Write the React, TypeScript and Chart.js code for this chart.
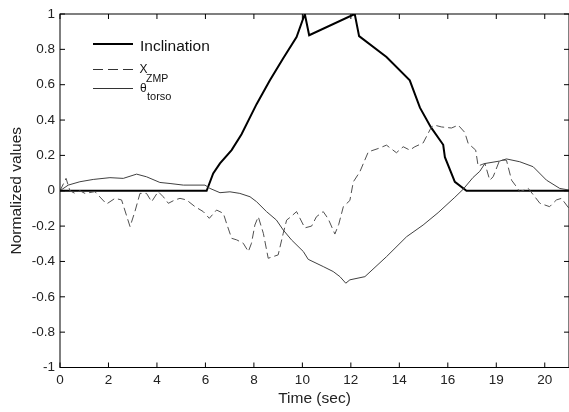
import React, { useEffect, useRef } from "react";
import { Chart, registerables } from "chart.js";

Chart.register(...registerables);

// ---- data ----
const inclinationT = [0, 6.05, 6.32, 6.6, 7.08, 7.49, 8.11, 8.66, 9.21, 9.76, 10.1, 10.28, 12.16, 12.34, 13.47, 14.43, 14.85, 15.3, 15.81, 15.88, 16.29, 16.77, 21];
const inclinationY = [0, 0, 0.098, 0.155, 0.23, 0.32, 0.49, 0.625, 0.75, 0.87, 1.0, 0.88, 1.0, 0.875, 0.757, 0.625, 0.47, 0.36, 0.26, 0.19, 0.05, 0, 0];

const zmpT = [0, 0.25, 0.41, 0.62, 0.82, 1.03, 1.44, 1.92, 2.27, 2.54, 2.89, 3.09, 3.3, 3.57, 3.78, 4.05, 4.26, 4.47, 4.74, 4.95, 5.22, 5.57, 5.91, 6.16, 6.46, 6.74, 6.87, 7.08, 7.29, 7.56, 7.77, 7.9, 8.04, 8.18, 8.39, 8.59, 9.0, 9.21, 9.35, 9.5, 9.76, 10.1, 10.38, 10.58, 10.86, 11.07, 11.34, 11.5, 11.69, 11.96, 12.1, 12.37, 12.72, 13.13, 13.47, 13.88, 14.16, 14.43, 14.64, 14.98, 15.33, 15.46, 15.74, 16.15, 16.43, 16.7, 16.84, 17.15, 17.25, 17.53, 17.73, 17.87, 18.14, 18.42, 18.63, 18.83, 18.97, 19.32, 19.59, 19.8, 20.2, 20.48, 20.69, 21.0];
const zmpY = [0, 0.07, 0.0, -0.015, 0.0, -0.015, -0.005, -0.075, -0.043, -0.052, -0.203, -0.118, -0.015, -0.015, -0.062, -0.005, -0.034, -0.071, -0.052, -0.043, -0.052, -0.09, -0.118, -0.156, -0.109, -0.128, -0.184, -0.269, -0.278, -0.297, -0.344, -0.297, -0.194, -0.147, -0.241, -0.382, -0.363, -0.241, -0.166, -0.15, -0.118, -0.21, -0.2, -0.147, -0.118, -0.16, -0.245, -0.19, -0.09, -0.055, 0.05, 0.107, 0.22, 0.239, 0.258, 0.215, 0.249, 0.23, 0.249, 0.27, 0.362, 0.371, 0.361, 0.355, 0.371, 0.33, 0.268, 0.23, 0.14, 0.155, 0.06, 0.079, 0.173, 0.173, 0.06, 0.023, -0.006, 0.013, -0.034, -0.071, -0.09, -0.052, -0.043, -0.1];

const torsoT = [0, 0.34, 0.82, 1.37, 2.06, 2.61, 3.16, 3.57, 4.12, 4.54, 5.09, 5.98, 6.19, 6.6, 7.01, 7.42, 7.84, 8.11, 8.52, 8.93, 9.21, 9.55, 10.04, 10.24, 10.86, 11.27, 11.55, 11.79, 11.96, 12.58, 13.47, 14.3, 14.98, 15.6, 16.29, 16.63, 17.04, 17.32, 17.53, 18.14, 18.42, 18.97, 19.52, 20.07, 20.62, 21];
const torsoY = [0, 0.032, 0.051, 0.064, 0.074, 0.07, 0.094, 0.079, 0.047, 0.041, 0.032, 0.032, 0.013, -0.011, -0.006, -0.015, -0.034, -0.062, -0.118, -0.166, -0.222, -0.278, -0.344, -0.388, -0.429, -0.457, -0.486, -0.523, -0.504, -0.486, -0.373, -0.26, -0.194, -0.124, -0.037, 0.008, 0.075, 0.11, 0.154, 0.168, 0.18, 0.164, 0.136, 0.06, 0.013, 0.004];

const xTickValues = [0, 2, 4, 6, 8, 10, 12, 14, 16, 18, 20];
const xTickLabels = ["0", "2", "4", "6", "8", "10", "12", "14", "16", "19", "20"];
const yTickValues = [-1, -0.8, -0.6, -0.4, -0.2, 0, 0.2, 0.4, 0.6, 0.8, 1];
const yTickLabels = ["-1", "-0.8", "-0.6", "-0.4", "-0.2", "0", "0.2", "0.4", "0.6", "0.8", "1"];

const FONT = '"Liberation Sans", Arial, Helvetica, sans-serif';

const toPoints = (t: number[], y: number[]) => t.map((v, i) => ({ x: v, y: y[i] }));

const framePlugin = {
  id: "frame",
  afterDatasetsDraw(chart: any) {
    const { ctx, chartArea, scales } = chart;
    const { left, right, top, bottom } = chartArea;
    const xs = scales.x;
    const ys = scales.y;
    const tl = 5;
    ctx.save();
    ctx.strokeStyle = "#000";
    ctx.lineWidth = 1;
    ctx.strokeRect(left, top, right - left, bottom - top);
    ctx.beginPath();
    xTickValues.forEach((v) => {
      const px = xs.getPixelForValue(v);
      ctx.moveTo(px, bottom);
      ctx.lineTo(px, bottom - tl);
      ctx.moveTo(px, top);
      ctx.lineTo(px, top + tl);
    });
    yTickValues.forEach((v) => {
      const py = ys.getPixelForValue(v);
      ctx.moveTo(left, py);
      ctx.lineTo(left + tl, py);
      ctx.moveTo(right, py);
      ctx.lineTo(right - tl, py);
    });
    ctx.stroke();
    ctx.restore();
  },
};

export default function App() {
  const ref = useRef<HTMLCanvasElement | null>(null);

  useEffect(() => {
    document.body.style.margin = "0";
    const canvas = ref.current;
    if (!canvas) return;
    Chart.defaults.font.family = FONT;
    const chart = new Chart(canvas, {
      type: "line",
      data: {
        datasets: [
          {
            label: "θtorso",
            data: toPoints(torsoT, torsoY),
            borderColor: "#404040",
            borderWidth: 1,
            pointRadius: 0,
            tension: 0,
            fill: false,
          },
          {
            label: "XZMP",
            data: toPoints(zmpT, zmpY),
            borderColor: "#505050",
            borderWidth: 1,
            borderDash: [8, 4],
            pointRadius: 0,
            tension: 0,
            fill: false,
          },
          {
            label: "Inclination",
            data: toPoints(inclinationT, inclinationY),
            borderColor: "#000",
            borderWidth: 2,
            pointRadius: 0,
            tension: 0,
            fill: false,
          },
        ],
      },
      options: {
        animation: false,
        responsive: false,
        maintainAspectRatio: false,
        layout: { padding: { top: 14, right: -1, left: 0, bottom: 0 } },
        plugins: { legend: { display: false }, tooltip: { enabled: false } },
        scales: {
          x: {
            type: "linear",
            min: 0,
            max: 21,
            afterBuildTicks: (s: any) => {
              s.ticks = xTickValues.map((v) => ({ value: v }));
            },
            afterFit: (s: any) => {
              s.height = 44.5;
            },
            ticks: {
              autoSkip: false,
              maxRotation: 0,
              padding: 5,
              color: "#222",
              font: { size: 13.5, family: FONT },
              callback: (v: any) => {
                const i = xTickValues.indexOf(Number(v));
                return i >= 0 ? xTickLabels[i] : "";
              },
            },
            grid: { display: false, drawTicks: false },
            border: { display: false },
            title: {
              display: true,
              text: "Time (sec)",
              color: "#222",
              font: { size: 15.5, family: FONT },
              padding: { top: 0, bottom: 3.7 },
            },
          },
          y: {
            type: "linear",
            min: -1,
            max: 1,
            afterBuildTicks: (s: any) => {
              s.ticks = yTickValues.map((v) => ({ value: v }));
            },
            afterFit: (s: any) => {
              s.width = 60;
            },
            ticks: {
              autoSkip: false,
              padding: 5,
              color: "#222",
              font: { size: 13.5, family: FONT },
              callback: (v: any) => {
                const i = yTickValues.findIndex((t) => Math.abs(t - Number(v)) < 1e-6);
                return i >= 0 ? yTickLabels[i] : "";
              },
            },
            grid: { display: false, drawTicks: false },
            border: { display: false },
            title: {
              display: true,
              text: "Normalized values",
              color: "#222",
              font: { size: 15.5, family: FONT },
              padding: { top: 7, bottom: 0 },
            },
          },
        },
      },
      plugins: [framePlugin],
    } as any);
    return () => chart.destroy();
  }, []);

  const textBase: React.CSSProperties = {
    position: "absolute",
    fontFamily: FONT,
    color: "#111",
    whiteSpace: "nowrap",
  };

  return (
    <div style={{ position: "relative", width: 569, height: 412, overflow: "hidden" }}>
      <canvas ref={ref} width={569} height={412} style={{ position: "absolute", left: 0, top: 0, display: "block" }} />
      {/* legend */}
      <div style={{ position: "absolute", left: 93, top: 42.5, width: 40, height: 2, background: "#000" }} />
      <span style={{ ...textBase, left: 140, top: 37.6, fontSize: 15.5, lineHeight: "15.5px" }}>Inclination</span>

      <div style={{ position: "absolute", left: 93, top: 68.5, width: 10, height: 1, background: "#333" }} />
      <div style={{ position: "absolute", left: 108, top: 68.5, width: 10, height: 1, background: "#333" }} />
      <div style={{ position: "absolute", left: 123, top: 68.5, width: 10, height: 1, background: "#333" }} />
      <span style={{ ...textBase, left: 139.5, top: 63.1, fontSize: 12, lineHeight: "12px" }}>X</span>
      <span style={{ ...textBase, left: 146, top: 72.8, fontSize: 10.5, lineHeight: "10.5px" }}>ZMP</span>

      <div style={{ position: "absolute", left: 93, top: 88, width: 40, height: 1, background: "#333" }} />
      <span style={{ ...textBase, left: 140, top: 81.5, fontSize: 12, lineHeight: "12px" }}>θ</span>
      <span style={{ ...textBase, left: 147, top: 90.7, fontSize: 11, lineHeight: "11px" }}>torso</span>
    </div>
  );
}
